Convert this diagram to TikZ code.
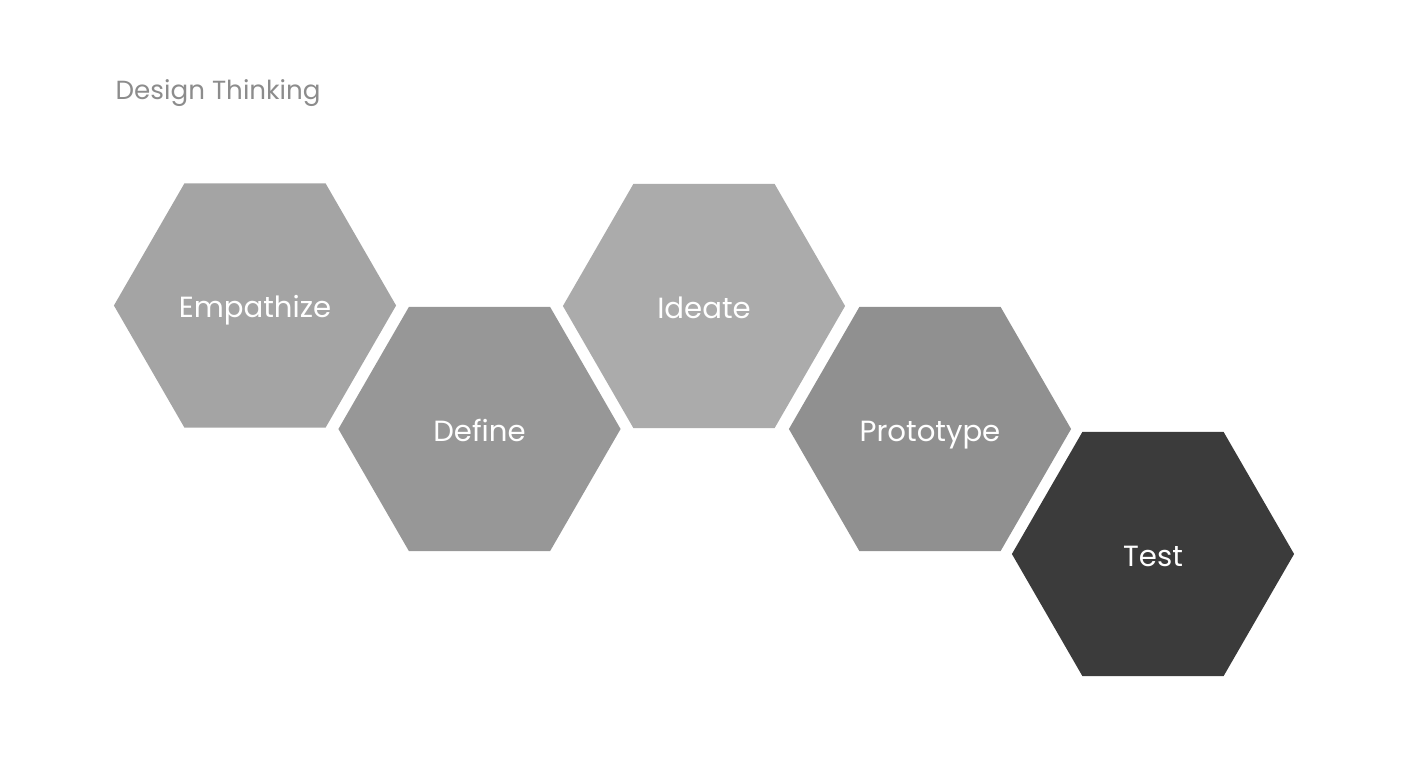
\documentclass[tikz,border=0pt]{standalone}
\usepackage{fontspec}
\setmainfont{Poppins}
\usepackage{tikz}
\usetikzlibrary{shapes.geometric}
\definecolor{TitleGray}{HTML}{8C8C8C}
\definecolor{HexA}{HTML}{A4A4A4}
\definecolor{HexB}{HTML}{979797}
\definecolor{HexC}{HTML}{ABABAB}
\definecolor{HexD}{HTML}{909090}
\definecolor{HexDark}{HTML}{3B3B3B}

\begin{document}
\begin{tikzpicture}[
  x=0.01cm,y=-0.01cm,
  hexa/.style={regular polygon,regular polygon sides=6,minimum size=2.82cm,inner sep=0pt,outer sep=0pt,draw=none,text=white,text height=0.7em,text depth=0pt,font=\fontsize{8.3}{10}\selectfont},
  title/.style={anchor=base west,text=TitleGray,inner sep=0pt,font=\fontsize{7.45}{9}\selectfont}
]
\useasboundingbox (0,0) rectangle (1414,757);
\node[title] (heading) at (115,99) {Design Thinking};
\node[hexa,fill=HexA] (empathize) at (255,305.5) {Empathize};
\node[hexa,fill=HexB] (define) at (479.5,429) {Define};
\node[hexa,fill=HexC] (ideate) at (704,306) {Ideate};
\node[hexa,fill=HexD] (prototype) at (930,429) {Prototype};
\node[hexa,fill=HexDark] (test) at (1153,554) {Test};
\end{tikzpicture}
\end{document}
